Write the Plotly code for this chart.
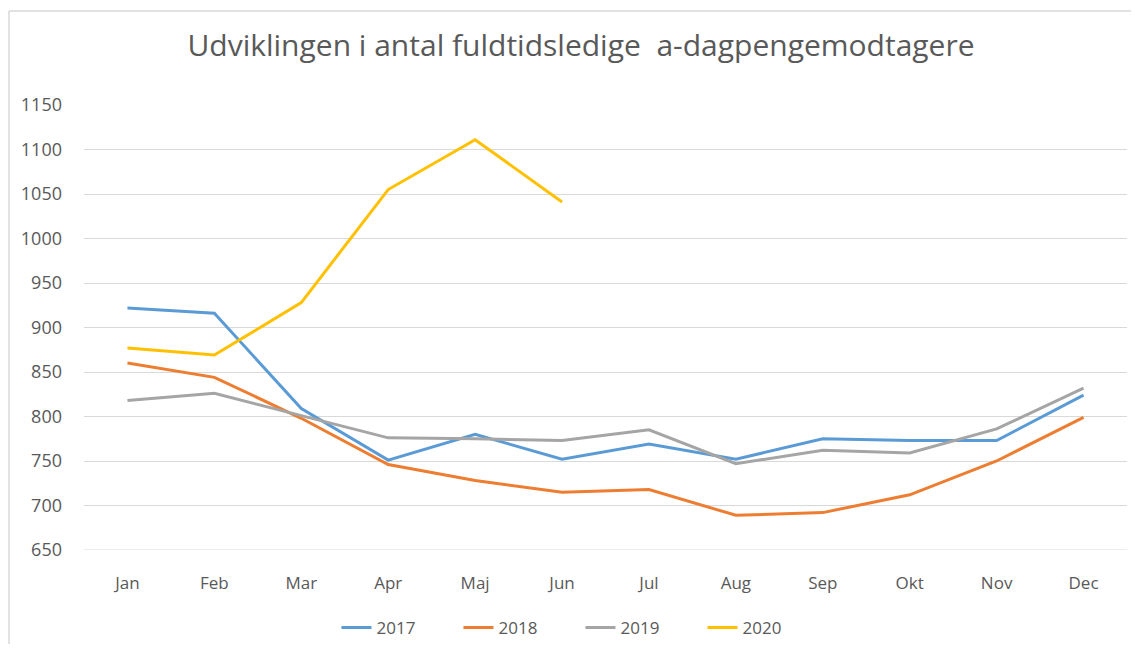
import plotly.graph_objects as go

months = ["Jan", "Feb", "Mar", "Apr", "Maj", "Jun", "Jul", "Aug", "Sep", "Okt", "Nov", "Dec"]
v2017 = [922, 916, 809, 751, 780, 752, 769, 752, 775, 773, 773, 824]
v2018 = [860, 844, 798, 746, 728, 715, 718, 689, 692, 712, 750, 799]
v2019 = [818, 826, 801, 776, 775, 773, 785, 747, 762, 759, 786, 832]
v2020 = [877, 869, 928, 1055, 1111, 1041]
y_ticks = [650, 700, 750, 800, 850, 900, 950, 1000, 1050, 1100, 1150]

series = [
    ("2017", v2017, "#5B9BD5"),
    ("2018", v2018, "#ED7D31"),
    ("2019", v2019, "#A5A5A5"),
    ("2020", v2020, "#FFC000"),
]

fig = go.Figure()
for name, vals, col in series:
    fig.add_trace(go.Scatter(
        x=months[:len(vals)], y=vals, name=name, mode="lines",
        line=dict(color=col, width=3),
    ))

font_family = "Open Sans"
W, H = 1123, 636
T, B = 97, 94
plot_h = H - T - B
fig.update_layout(
    width=W, height=H,
    margin=dict(l=76, r=4, t=T, b=B, autoexpand=False),
    paper_bgcolor="white", plot_bgcolor="white",
    title=dict(
        text="Udviklingen i antal fuldtidsledige\u00a0 a-dagpengemodtagere",
        x=573 / W, xanchor="center", y=1 - 37 / H, yanchor="middle",
        font=dict(family=font_family, size=30, color="#595959"),
    ),
    xaxis=dict(
        type="category", categoryorder="array", categoryarray=months,
        range=[-0.5, 11.5], showgrid=False, showline=False, ticks="",
        tickfont=dict(family=font_family, size=17, color="#595959"),
        ticklabelstandoff=21, zeroline=False, automargin=False,
    ),
    yaxis=dict(
        range=[650, 1150], tickvals=y_ticks, showgrid=True,
        gridcolor="#D9D9D9", gridwidth=1, showline=False, zeroline=False,
        ticks="", tickfont=dict(family=font_family, size=18, color="#595959"),
        ticklabelstandoff=21, automargin=False,
    ),
    showlegend=True,
    legend=dict(
        orientation="h", x=0.476, xanchor="center",
        y=-(620 - (H - B)) / plot_h, yanchor="middle",
        font=dict(family=font_family, size=17, color="#595959"),
        entrywidth=77, entrywidthmode="pixels", traceorder="normal",
    ),
    shapes=[
        dict(type="line", xref="paper", yref="paper", x0=-75 / 1043, x1=1.2,
             y0=1 + (T - 3) / plot_h, y1=1 + (T - 3) / plot_h,
             line=dict(color="#D9D9D9", width=1.5), layer="below"),
        dict(type="line", xref="paper", yref="paper", x0=-75 / 1043, x1=-75 / 1043,
             y0=1 + (T - 3) / plot_h, y1=-0.5,
             line=dict(color="#D9D9D9", width=1.5), layer="below"),
        dict(type="line", xref="paper", yref="y", x0=0, x1=1, y0=650, y1=650,
             line=dict(color="#D9D9D9", width=1), layer="below"),
    ],
)

fig.write_html("out.html")
